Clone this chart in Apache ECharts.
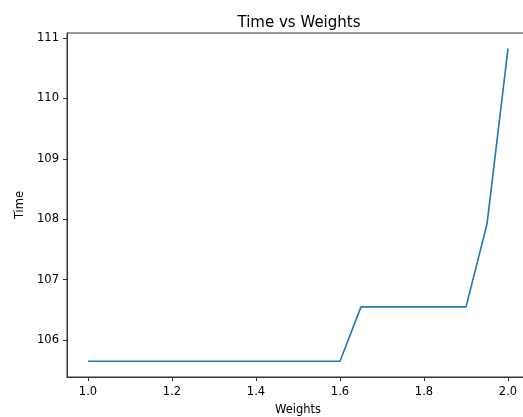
<!DOCTYPE html>
<html>
<head>
<meta charset="utf-8">
<script src="https://cdn.jsdelivr.net/npm/echarts@6/dist/echarts.min.js"></script>
<style>
html,body{margin:0;padding:0;background:#fff;}
#chart{width:523px;height:417px;}
</style>
</head>
<body>
<div id="chart"></div>
<script>
const weights = [1.0,1.05,1.1,1.15,1.2,1.25,1.3,1.35,1.4,1.45,1.5,1.55,1.6,1.65,1.7,1.75,1.8,1.85,1.9,1.95,2.0];
const times = [105.65,105.65,105.65,105.65,105.65,105.65,105.65,105.65,105.65,105.65,105.65,105.65,105.65,106.55,106.55,106.55,106.55,106.55,106.55,107.92,110.82];
const xTicks = [1.0,1.2,1.4,1.6,1.8,2.0];
const yTicks = [106,107,108,109,110,111];

const chart = echarts.init(document.getElementById('chart'), null, {renderer:'canvas'});
const font = 'DejaVu Sans';
chart.setOption({
  animation:false,
  backgroundColor:'#fff',
  title:{
    text:'Time vs Weights',
    left:294, top:11, textAlign:'center',
    textStyle:{fontFamily:font,fontSize:15,fontWeight:'normal',color:'#000'}
  },
  grid:{left:67,top:33,width:462,height:344,outerBoundsMode:'none',containLabel:false,show:true,borderColor:'#333',borderWidth:1,backgroundColor:'transparent'},
  xAxis:{
    type:'value', min:0.95, max:2.05,
    name:'Weights', nameLocation:'middle', nameGap:27,
    nameTextStyle:{fontFamily:font,fontSize:11.5,color:'#000'},
    axisLine:{show:true,lineStyle:{color:'#333',width:1}},
    axisTick:{show:true,length:4,lineStyle:{color:'#333'},customValues:xTicks},
    axisLabel:{fontFamily:font,fontSize:11.5,color:'#000',margin:9,customValues:xTicks,formatter:v=>v.toFixed(1)},
    splitLine:{show:false}
  },
  yAxis:{
    type:'value', min:105.39, max:111.08,
    name:'Time', nameLocation:'middle', nameGap:40,
    nameTextStyle:{fontFamily:font,fontSize:11.5,color:'#000'},
    axisLine:{show:true,lineStyle:{color:'#333',width:1}},
    axisTick:{show:true,length:4,lineStyle:{color:'#333'},customValues:yTicks},
    axisLabel:{fontFamily:font,fontSize:11.5,color:'#000',margin:8,customValues:yTicks,formatter:v=>String(Math.round(v))},
    splitLine:{show:false}
  },
  series:[{
    type:'line',
    data:weights.map((w,i)=>[w,times[i]]),
    showSymbol:false,
    lineStyle:{color:'#1f77b4',width:1.6},
    itemStyle:{color:'#1f77b4'}
  }]
});
</script>
</body>
</html>
